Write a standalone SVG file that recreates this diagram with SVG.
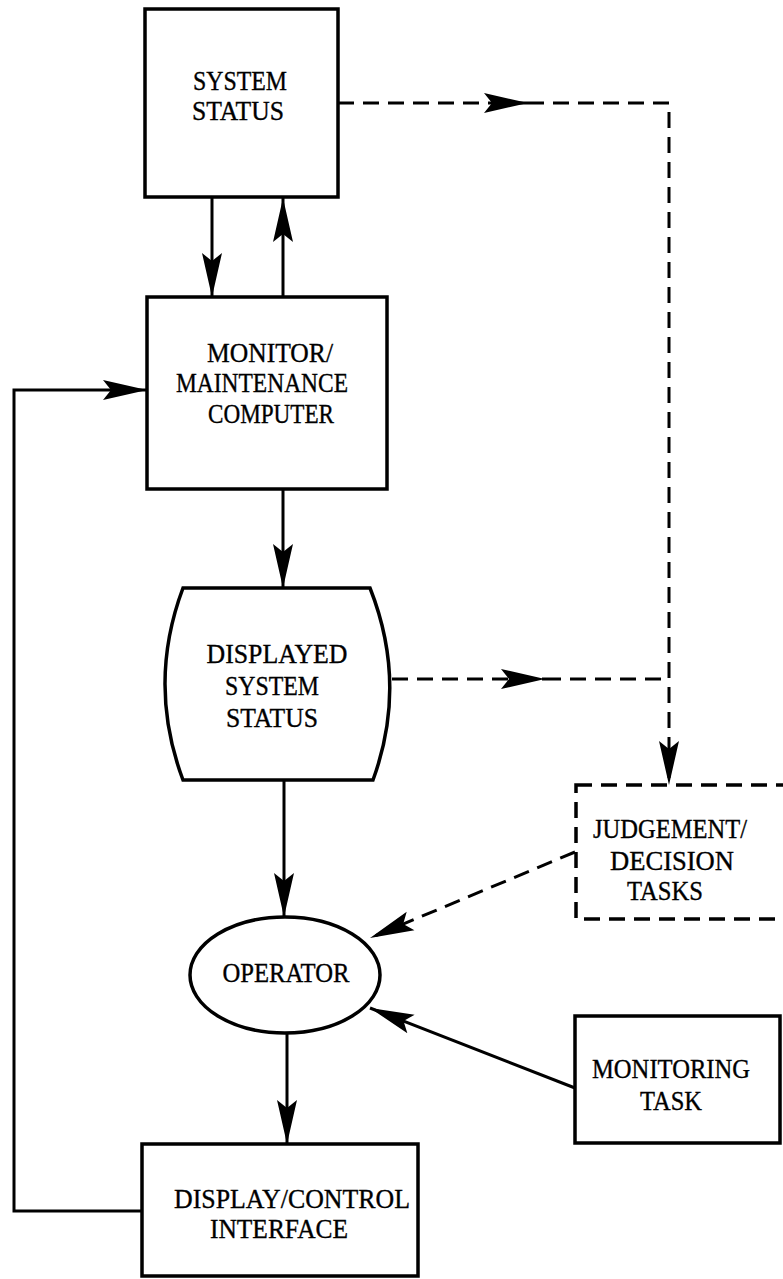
<svg xmlns="http://www.w3.org/2000/svg" width="783" height="1279" viewBox="0 0 783 1279">
<style>
.box{fill:#fff;stroke:#000;stroke-width:3.5}
.dbox{fill:none;stroke:#000;stroke-width:3.5;stroke-dasharray:16 9}
.ln{fill:none;stroke:#000;stroke-width:3}
.dl{fill:none;stroke:#000;stroke-width:3;stroke-dasharray:16 9}
text{font-family:"Liberation Serif","DejaVu Serif",serif;font-size:27px;fill:#000;stroke:#000;stroke-width:0.35;text-anchor:middle}
</style>
<defs>
<marker id="ah" markerUnits="userSpaceOnUse" markerWidth="46" markerHeight="22" viewBox="0 0 46 22" refX="44" refY="11" orient="auto">
<path d="M0,1 L44,11 L0,21 L8,11 Z" fill="#000"/>
</marker>
</defs>
<rect width="783" height="1279" fill="#fff"/>
<g id="connectors">
<line class="ln" x1="212" y1="197" x2="212" y2="297" marker-end="url(#ah)"/>
<line class="ln" x1="283" y1="297" x2="283" y2="198" marker-end="url(#ah)"/>
<line class="ln" x1="283" y1="489" x2="283" y2="588" marker-end="url(#ah)"/>
<line class="ln" x1="284" y1="780" x2="284" y2="917" marker-end="url(#ah)"/>
<line class="ln" x1="287" y1="1033" x2="287" y2="1144" marker-end="url(#ah)"/>
<polyline class="ln" points="142,1211 14,1211 14,390 147,390" marker-end="url(#ah)"/>
<line class="ln" x1="575" y1="1088" x2="370" y2="1008" marker-end="url(#ah)"/>
<line class="dl" x1="575" y1="852" x2="370" y2="938" marker-end="url(#ah)"/>
<line class="dl" x1="338" y1="103" x2="528" y2="103" marker-end="url(#ah)"/>
<polyline class="dl" points="528,103 669,103 669,785" marker-end="url(#ah)"/>
<line class="dl" x1="392" y1="679" x2="545" y2="679" marker-end="url(#ah)"/>
<line class="dl" x1="545" y1="679" x2="669" y2="679"/>
</g>
<g id="system-status">
<rect class="box" x="145" y="9" width="193" height="188"/>
<text x="240" y="90" textLength="94" lengthAdjust="spacingAndGlyphs">SYSTEM</text>
<text x="238" y="120" textLength="92" lengthAdjust="spacingAndGlyphs">STATUS</text>
</g>
<g id="monitor-computer">
<rect class="box" x="147" y="297" width="240" height="192"/>
<text x="270" y="362" textLength="126" lengthAdjust="spacingAndGlyphs">MONITOR/</text>
<text x="262" y="392" textLength="172" lengthAdjust="spacingAndGlyphs">MAINTENANCE</text>
<text x="271" y="423" textLength="126" lengthAdjust="spacingAndGlyphs">COMPUTER</text>
</g>
<g id="displayed-status">
<path class="box" d="M183,588 L370,588 Q408,684 373,780 L183,780 Q147,684 183,588 Z"/>
<text x="277" y="663" textLength="141" lengthAdjust="spacingAndGlyphs">DISPLAYED</text>
<text x="272" y="695" textLength="94" lengthAdjust="spacingAndGlyphs">SYSTEM</text>
<text x="272" y="727" textLength="92" lengthAdjust="spacingAndGlyphs">STATUS</text>
</g>
<g id="judgement">
<rect class="dbox" x="576" y="785" width="220" height="134"/>
<text x="670" y="838" textLength="154" lengthAdjust="spacingAndGlyphs">JUDGEMENT/</text>
<text x="672" y="870" textLength="124" lengthAdjust="spacingAndGlyphs">DECISION</text>
<text x="665" y="900" textLength="76" lengthAdjust="spacingAndGlyphs">TASKS</text>
</g>
<g id="operator">
<ellipse class="box" cx="285" cy="975" rx="95" ry="58"/>
<text x="286" y="982" textLength="127" lengthAdjust="spacingAndGlyphs">OPERATOR</text>
</g>
<g id="monitoring-task">
<rect class="box" x="575" y="1016" width="205" height="127"/>
<text x="671" y="1078" textLength="158" lengthAdjust="spacingAndGlyphs">MONITORING</text>
<text x="671" y="1110" textLength="62" lengthAdjust="spacingAndGlyphs">TASK</text>
</g>
<g id="display-control">
<rect class="box" x="142" y="1144" width="276" height="132"/>
<text x="292" y="1208" textLength="236" lengthAdjust="spacingAndGlyphs">DISPLAY/CONTROL</text>
<text x="279" y="1238" textLength="138" lengthAdjust="spacingAndGlyphs">INTERFACE</text>
</g>
</svg>
